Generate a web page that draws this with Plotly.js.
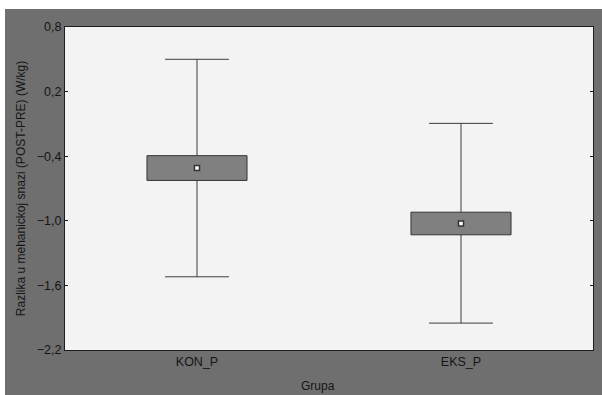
<!DOCTYPE html>
<html>
<head>
<meta charset="utf-8">
<script src="https://cdn.plot.ly/plotly-3.0.1.min.js"></script>
<style>
  html, body { margin: 0; padding: 0; background: #ffffff; width: 602px; height: 395px; overflow: hidden; }
  #chart { position: absolute; left: 5px; top: 9px; width: 597px; height: 386px; }
</style>
</head>
<body>
<div id="chart"></div>
<script>
// Data
const categories = ['KON_P', 'EKS_P'];
const means = [-0.51, -1.025];
const boxLow = [-0.625, -1.13];
const boxHigh = [-0.395, -0.92];
const whiskerLow = [-1.52, -1.95];
const whiskerHigh = [0.50, -0.095];
const yTickVals = [0.8, 0.2, -0.4, -1.0, -1.6, -2.2];

// style constants
const BOX_WIDTH = 0.379;
const CAP_HALF = 0.121;
const idx = categories.map((_, i) => i);

// whisker paths built from data
const wx = [], wy = [];
idx.forEach(i => {
  wx.push(i, i, null, i - CAP_HALF, i + CAP_HALF, null);
  wy.push(boxHigh[i], whiskerHigh[i], null, whiskerHigh[i], whiskerHigh[i], null);
  wx.push(i, i, null, i - CAP_HALF, i + CAP_HALF, null);
  wy.push(boxLow[i], whiskerLow[i], null, whiskerLow[i], whiskerLow[i], null);
});

const traces = [
  {
    type: 'scatter', mode: 'lines', x: wx, y: wy,
    line: { color: '#3c3c3c', width: 1 }, hoverinfo: 'skip', showlegend: false
  },
  {
    type: 'bar', x: idx, base: boxLow,
    y: idx.map(i => boxHigh[i] - boxLow[i]),
    width: BOX_WIDTH,
    marker: { color: '#808080', line: { color: '#333333', width: 1 } },
    showlegend: false
  },
  {
    type: 'scatter', mode: 'markers', x: idx, y: means,
    marker: { symbol: 'square', size: 5, color: '#ffffff', line: { color: '#333333', width: 1.5 } },
    showlegend: false
  }
];

const font = { family: 'Arial, "Liberation Sans", sans-serif', size: 12.5, color: '#151515' };

const layout = {
  width: 597, height: 386,
  paper_bgcolor: '#6f6f6f',
  plot_bgcolor: '#f3f3f3',
  margin: { l: 60, r: 9, t: 18, b: 45 },
  separators: ',.',
  font: font,
  showlegend: false,
  xaxis: {
    range: [-0.5, 1.5],
    tickmode: 'array', tickvals: idx, ticktext: categories,
    ticks: '', showgrid: false, zeroline: false,
    showline: true, linecolor: '#1e1e1e', linewidth: 1, mirror: true,
    tickfont: font, fixedrange: true
  },
  yaxis: {
    range: [-2.2, 0.8],
    tickmode: 'array', tickvals: yTickVals,
    tickformat: '.1f',
    ticks: 'inside', ticklen: 3, tickcolor: '#1e1e1e',
    showgrid: false, zeroline: false,
    showline: true, linecolor: '#1e1e1e', linewidth: 1, mirror: 'ticks',
    tickfont: font,
    title: { text: 'Razlika u mehanickoj snazi (POST-PRE) (W/kg)', font: { family: font.family, size: 12, color: '#151515' }, standoff: 8 }
  },
  annotations: [{
    xref: 'paper', yref: 'paper', x: 0.479, y: -0.113,
    xanchor: 'center', yanchor: 'middle', showarrow: false,
    text: 'Grupa', font: { family: font.family, size: 12, color: '#151515' }
  }]
};

Plotly.newPlot('chart', traces, layout, { displayModeBar: false, staticPlot: true });
</script>
</body>
</html>
